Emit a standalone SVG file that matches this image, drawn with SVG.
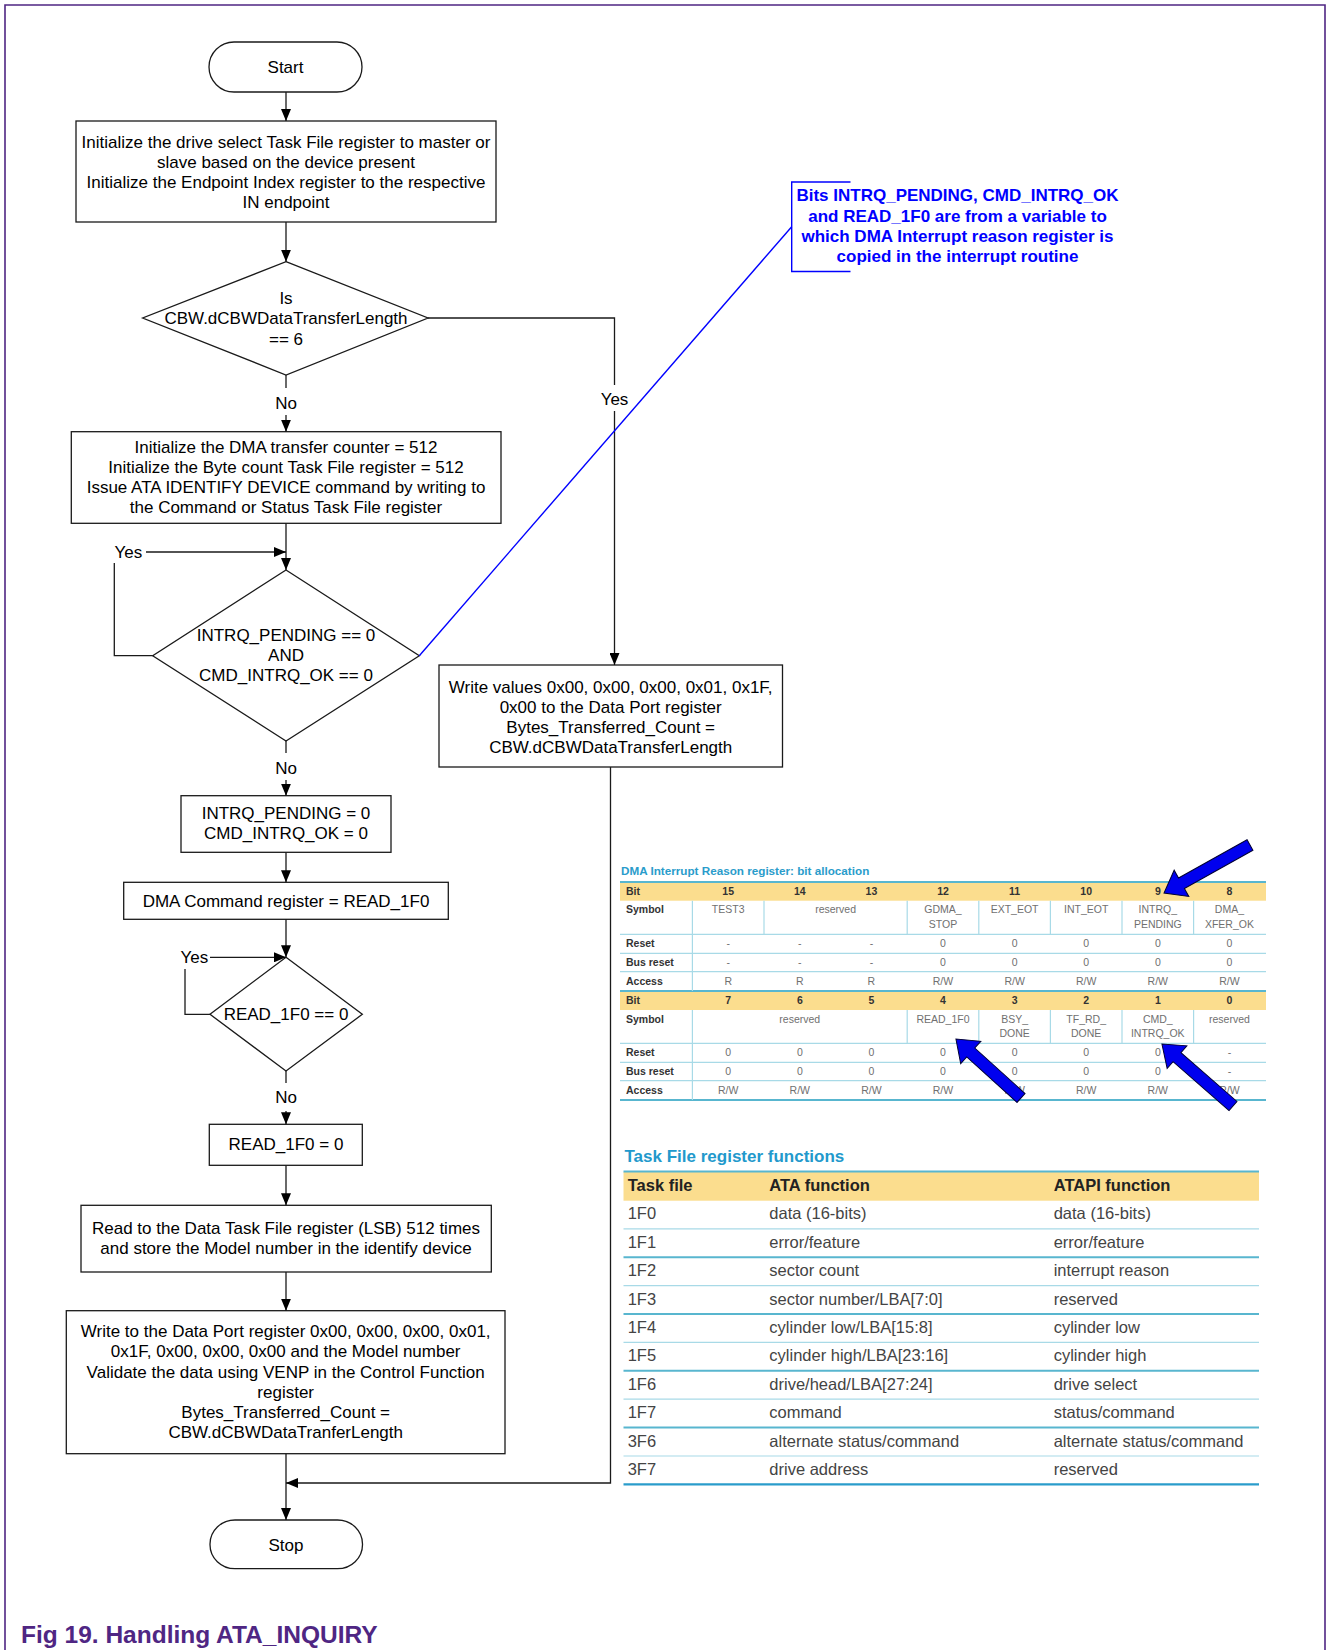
<svg xmlns="http://www.w3.org/2000/svg" width="1327" height="1650" viewBox="0 0 1327 1650">
  <style>
    text { font-family: "Liberation Sans", Arial, sans-serif; }
    .node { fill: #ffffff; stroke: #1a1a1a; stroke-width: 1.3; }
    .t { font-size: 17px; fill: #000000; text-anchor: middle; }
    .lbl { font-size: 17px; fill: #000000; }
    .conn { fill: none; stroke: #1a1a1a; stroke-width: 1.3; }
    .note { fill: none; stroke: #0000ff; stroke-width: 1.4; }
    .notet { font-size: 17px; font-weight: bold; fill: #0000ff; text-anchor: middle; }
    .frame { fill: none; stroke: #4f2683; stroke-width: 1.6; }
    .cap { font-size: 24.5px; font-weight: bold; fill: #4f2683; }
    .hdr { fill: #fbdd8e; }
    .thick { stroke: #58b6cf; stroke-width: 2; }
    .thin { stroke: #a8dae7; stroke-width: 1.2; }
    .rtitle { font-size: 11.7px; font-weight: bold; fill: #2a9ccb; }
    .rlab { font-size: 10.5px; font-weight: bold; fill: #333333; }
    .rnum { font-size: 10.5px; font-weight: bold; fill: #333333; text-anchor: middle; }
    .rval { font-size: 10.5px; fill: #707070; text-anchor: middle; }
    .ttitle { font-size: 17px; font-weight: bold; fill: #2299cc; }
    .th { font-size: 16.5px; font-weight: bold; fill: #222222; }
    .td { font-size: 16.5px; fill: #444444; }
    .barrow { fill: #0000ee; stroke: #000033; stroke-width: 1; }
  </style>
  <defs>
    <marker id="ah" viewBox="0 0 12 10" refX="12" refY="5" markerWidth="12" markerHeight="10" markerUnits="userSpaceOnUse" orient="auto">
      <path d="M0,0 L12,5 L0,10 z" fill="#000000"/>
    </marker>
  </defs>

  <rect width="1327" height="1650" fill="#ffffff"/>

  <!-- page frame -->
  <path class="frame" d="M5,1650 V5 H1325 V1650"/>

  <!-- flow nodes -->
  <g id="start">
    <rect class="node" x="209" y="42" width="153" height="50" rx="25" ry="25"/>
    <text class="t" x="285.5" y="72.5">Start</text>
  </g>

  <g id="init-drive">
    <rect class="node" x="76" y="121" width="420" height="101"/>
    <text class="t" x="286" y="148">Initialize the drive select Task File register to master or</text>
    <text class="t" x="286" y="168">slave based on the device present</text>
    <text class="t" x="286" y="188">Initialize the Endpoint Index register to the respective</text>
    <text class="t" x="286" y="208">IN endpoint</text>
  </g>

  <g id="check-length">
    <polygon class="node" points="286,261.7 428,318 286,375 142.7,318"/>
    <text class="t" x="286" y="303.5">Is</text>
    <text class="t" x="286" y="323.5">CBW.dCBWDataTransferLength</text>
    <text class="t" x="286" y="344.5">== 6</text>
  </g>

  <g id="init-dma">
    <rect class="node" x="71.3" y="431.7" width="429.7" height="91.6"/>
    <text class="t" x="286" y="452.5">Initialize the DMA transfer counter = 512</text>
    <text class="t" x="286" y="473">Initialize the Byte count Task File register = 512</text>
    <text class="t" x="286" y="493">Issue ATA IDENTIFY DEVICE command by writing to</text>
    <text class="t" x="286" y="513">the Command or Status Task File register</text>
  </g>

  <g id="wait-intrq">
    <polygon class="node" points="286,570 419.3,655.7 286,741 152.7,655.7"/>
    <text class="t" x="286" y="641">INTRQ_PENDING == 0</text>
    <text class="t" x="286" y="661">AND</text>
    <text class="t" x="286" y="681">CMD_INTRQ_OK == 0</text>
  </g>

  <g id="clear-intrq">
    <rect class="node" x="181" y="795.7" width="210" height="56.6"/>
    <text class="t" x="286" y="819">INTRQ_PENDING = 0</text>
    <text class="t" x="286" y="839">CMD_INTRQ_OK = 0</text>
  </g>

  <g id="dma-command">
    <rect class="node" x="123.7" y="882.3" width="324.6" height="37"/>
    <text class="t" x="286" y="906.5">DMA Command register = READ_1F0</text>
  </g>

  <g id="wait-read">
    <polygon class="node" points="286,957.3 362.3,1014.3 286,1071 210,1014.3"/>
    <text class="t" x="286" y="1020">READ_1F0 == 0</text>
  </g>

  <g id="clear-read">
    <rect class="node" x="209.3" y="1124.3" width="153" height="41"/>
    <text class="t" x="286" y="1150">READ_1F0 = 0</text>
  </g>

  <g id="read-data">
    <rect class="node" x="81" y="1205.3" width="410.3" height="66.7"/>
    <text class="t" x="286" y="1234.3">Read to the Data Task File register (LSB) 512 times</text>
    <text class="t" x="286" y="1254.3">and store the Model number in the identify device</text>
  </g>

  <g id="write-model">
    <rect class="node" x="66.3" y="1310.7" width="438.7" height="143"/>
    <text class="t" x="285.7" y="1336.5">Write to the Data Port register 0x00, 0x00, 0x00, 0x01,</text>
    <text class="t" x="285.7" y="1357">0x1F, 0x00, 0x00, 0x00 and the Model number</text>
    <text class="t" x="285.7" y="1377.5">Validate the data using VENP in the Control Function</text>
    <text class="t" x="285.7" y="1397.5">register</text>
    <text class="t" x="285.7" y="1418">Bytes_Transferred_Count =</text>
    <text class="t" x="285.7" y="1438">CBW.dCBWDataTranferLength</text>
  </g>

  <g id="write-values">
    <rect class="node" x="439" y="665" width="343.5" height="102"/>
    <text class="t" x="610.7" y="692.5">Write values 0x00, 0x00, 0x00, 0x01, 0x1F,</text>
    <text class="t" x="610.7" y="712.5">0x00 to the Data Port register</text>
    <text class="t" x="610.7" y="732.5">Bytes_Transferred_Count =</text>
    <text class="t" x="610.7" y="752.5">CBW.dCBWDataTransferLength</text>
  </g>

  <g id="stop">
    <rect class="node" x="210" y="1520" width="152.5" height="48.7" rx="25" ry="24"/>
    <text class="t" x="286" y="1551">Stop</text>
  </g>

  <!-- connectors -->
  <g id="connectors">
    <path class="conn" d="M286,92 V121" marker-end="url(#ah)"/>
    <path class="conn" d="M286,222 V261.7" marker-end="url(#ah)"/>
    <path class="conn" d="M286,375 V388"/>
    <path class="conn" d="M286,415 V431.7" marker-end="url(#ah)"/>
    <path class="conn" d="M428,318 H614.5 V385"/>
    <path class="conn" d="M614.5,411 V665" marker-end="url(#ah)"/>
    <path class="conn" d="M286,523.3 V570" marker-end="url(#ah)"/>
    <path class="conn" d="M152.7,655.7 H114.3 V563"/>
    <path class="conn" d="M146,552 H286" marker-end="url(#ah)"/>
    <path class="conn" d="M286,741 V753"/>
    <path class="conn" d="M286,780 V795.7" marker-end="url(#ah)"/>
    <path class="conn" d="M286,852.3 V882.3" marker-end="url(#ah)"/>
    <path class="conn" d="M286,919.3 V957.3" marker-end="url(#ah)"/>
    <path class="conn" d="M210,1014.3 H185 V969"/>
    <path class="conn" d="M210,957.3 H286" marker-end="url(#ah)"/>
    <path class="conn" d="M286,1071 V1083"/>
    <path class="conn" d="M286,1111 V1124.3" marker-end="url(#ah)"/>
    <path class="conn" d="M286,1165.3 V1205.3" marker-end="url(#ah)"/>
    <path class="conn" d="M286,1272 V1310.7" marker-end="url(#ah)"/>
    <path class="conn" d="M286,1453.7 V1520" marker-end="url(#ah)"/>
    <path class="conn" d="M610.5,767 V1483 H286" marker-end="url(#ah)"/>
    <text class="lbl" x="286" y="409" text-anchor="middle">No</text>
    <text class="lbl" x="614.5" y="404.5" text-anchor="middle">Yes</text>
    <text class="lbl" x="114.5" y="558">Yes</text>
    <text class="lbl" x="286" y="774" text-anchor="middle">No</text>
    <text class="lbl" x="180.5" y="963">Yes</text>
    <text class="lbl" x="286" y="1103.3" text-anchor="middle">No</text>
    <!-- annotation link -->
    <path class="note" d="M791.7,226.7 L419.3,655.7"/>
  </g>

  <!-- annotation -->
  <g id="annotation">
    <path class="note" d="M850.5,182 H791.7 V271.5 H850.5"/>
    <text class="notet" x="957.5" y="201">Bits INTRQ_PENDING, CMD_INTRQ_OK</text>
    <text class="notet" x="957.5" y="221.5">and READ_1F0 are from a variable to</text>
    <text class="notet" x="957.5" y="242">which DMA Interrupt reason register is</text>
    <text class="notet" x="957.5" y="262">copied in the interrupt routine</text>
  </g>

  <!-- DMA Interrupt Reason register table -->
  <g id="dma-reason-table">
    <text class="rtitle" x="621" y="875">DMA Interrupt Reason register: bit allocation</text>
    <rect class="hdr" x="620" y="882" width="646" height="18.7"/>
    <rect class="hdr" x="620" y="991" width="646" height="19"/>
    <!-- horizontal rules -->
    <line class="thin" x1="620" y1="934.3" x2="1266" y2="934.3"/>
    <line class="thin" x1="620" y1="953.3" x2="1266" y2="953.3"/>
    <line class="thin" x1="620" y1="971.7" x2="1266" y2="971.7"/>
    <line class="thin" x1="620" y1="1043.3" x2="1266" y2="1043.3"/>
    <line class="thin" x1="620" y1="1062.3" x2="1266" y2="1062.3"/>
    <line class="thin" x1="620" y1="1080.7" x2="1266" y2="1080.7"/>
    <line class="thick" x1="620" y1="882" x2="1266" y2="882"/>
    <line class="thick" x1="620" y1="991" x2="1266" y2="991"/>
    <line class="thick" x1="620" y1="1100" x2="1266" y2="1100"/>
    <!-- column rules -->
    <line class="thin" x1="692.4" y1="900.7" x2="692.4" y2="991"/>
    <line class="thin" x1="692.4" y1="1010" x2="692.4" y2="1100"/>
    <line class="thin" x1="764" y1="900.7" x2="764" y2="934.3"/>
    <line class="thin" x1="907.2" y1="900.7" x2="907.2" y2="934.3"/>
    <line class="thin" x1="978.8" y1="900.7" x2="978.8" y2="934.3"/>
    <line class="thin" x1="1050.4" y1="900.7" x2="1050.4" y2="934.3"/>
    <line class="thin" x1="1122" y1="900.7" x2="1122" y2="934.3"/>
    <line class="thin" x1="1193.6" y1="900.7" x2="1193.6" y2="934.3"/>
    <line class="thin" x1="907.2" y1="1010" x2="907.2" y2="1043.3"/>
    <line class="thin" x1="978.8" y1="1010" x2="978.8" y2="1043.3"/>
    <line class="thin" x1="1050.4" y1="1010" x2="1050.4" y2="1043.3"/>
    <line class="thin" x1="1122" y1="1010" x2="1122" y2="1043.3"/>
    <line class="thin" x1="1193.6" y1="1010" x2="1193.6" y2="1043.3"/>
    <!-- row labels -->
    <text class="rlab" x="626" y="895">Bit</text>
    <text class="rlab" x="626" y="913">Symbol</text>
    <text class="rlab" x="626" y="946.5">Reset</text>
    <text class="rlab" x="626" y="966">Bus reset</text>
    <text class="rlab" x="626" y="985">Access</text>
    <text class="rlab" x="626" y="1004">Bit</text>
    <text class="rlab" x="626" y="1023">Symbol</text>
    <text class="rlab" x="626" y="1055.5">Reset</text>
    <text class="rlab" x="626" y="1075">Bus reset</text>
    <text class="rlab" x="626" y="1094">Access</text>
    <!-- upper byte -->
    <text class="rnum" x="728.2" y="895">15</text>
    <text class="rnum" x="799.8" y="895">14</text>
    <text class="rnum" x="871.4" y="895">13</text>
    <text class="rnum" x="943" y="895">12</text>
    <text class="rnum" x="1014.6" y="895">11</text>
    <text class="rnum" x="1086.2" y="895">10</text>
    <text class="rnum" x="1157.8" y="895">9</text>
    <text class="rnum" x="1229.4" y="895">8</text>
    <text class="rval" x="728.2" y="913">TEST3</text>
    <text class="rval" x="835.6" y="913">reserved</text>
    <text class="rval" x="943" y="913">GDMA_</text>
    <text class="rval" x="943" y="927.5">STOP</text>
    <text class="rval" x="1014.6" y="913">EXT_EOT</text>
    <text class="rval" x="1086.2" y="913">INT_EOT</text>
    <text class="rval" x="1157.8" y="913">INTRQ_</text>
    <text class="rval" x="1157.8" y="927.5">PENDING</text>
    <text class="rval" x="1229.4" y="913">DMA_</text>
    <text class="rval" x="1229.4" y="927.5">XFER_OK</text>
    <text class="rval" x="728.2" y="946.5">-</text>
    <text class="rval" x="799.8" y="946.5">-</text>
    <text class="rval" x="871.4" y="946.5">-</text>
    <text class="rval" x="943" y="946.5">0</text>
    <text class="rval" x="1014.6" y="946.5">0</text>
    <text class="rval" x="1086.2" y="946.5">0</text>
    <text class="rval" x="1157.8" y="946.5">0</text>
    <text class="rval" x="1229.4" y="946.5">0</text>
    <text class="rval" x="728.2" y="966">-</text>
    <text class="rval" x="799.8" y="966">-</text>
    <text class="rval" x="871.4" y="966">-</text>
    <text class="rval" x="943" y="966">0</text>
    <text class="rval" x="1014.6" y="966">0</text>
    <text class="rval" x="1086.2" y="966">0</text>
    <text class="rval" x="1157.8" y="966">0</text>
    <text class="rval" x="1229.4" y="966">0</text>
    <text class="rval" x="728.2" y="985">R</text>
    <text class="rval" x="799.8" y="985">R</text>
    <text class="rval" x="871.4" y="985">R</text>
    <text class="rval" x="943" y="985">R/W</text>
    <text class="rval" x="1014.6" y="985">R/W</text>
    <text class="rval" x="1086.2" y="985">R/W</text>
    <text class="rval" x="1157.8" y="985">R/W</text>
    <text class="rval" x="1229.4" y="985">R/W</text>
    <!-- lower byte -->
    <text class="rnum" x="728.2" y="1004">7</text>
    <text class="rnum" x="799.8" y="1004">6</text>
    <text class="rnum" x="871.4" y="1004">5</text>
    <text class="rnum" x="943" y="1004">4</text>
    <text class="rnum" x="1014.6" y="1004">3</text>
    <text class="rnum" x="1086.2" y="1004">2</text>
    <text class="rnum" x="1157.8" y="1004">1</text>
    <text class="rnum" x="1229.4" y="1004">0</text>
    <text class="rval" x="799.8" y="1023">reserved</text>
    <text class="rval" x="943" y="1023">READ_1F0</text>
    <text class="rval" x="1014.6" y="1023">BSY_</text>
    <text class="rval" x="1014.6" y="1037">DONE</text>
    <text class="rval" x="1086.2" y="1023">TF_RD_</text>
    <text class="rval" x="1086.2" y="1037">DONE</text>
    <text class="rval" x="1157.8" y="1023">CMD_</text>
    <text class="rval" x="1157.8" y="1037">INTRQ_OK</text>
    <text class="rval" x="1229.4" y="1023">reserved</text>
    <text class="rval" x="728.2" y="1055.5">0</text>
    <text class="rval" x="799.8" y="1055.5">0</text>
    <text class="rval" x="871.4" y="1055.5">0</text>
    <text class="rval" x="943" y="1055.5">0</text>
    <text class="rval" x="1014.6" y="1055.5">0</text>
    <text class="rval" x="1086.2" y="1055.5">0</text>
    <text class="rval" x="1157.8" y="1055.5">0</text>
    <text class="rval" x="1229.4" y="1055.5">-</text>
    <text class="rval" x="728.2" y="1075">0</text>
    <text class="rval" x="799.8" y="1075">0</text>
    <text class="rval" x="871.4" y="1075">0</text>
    <text class="rval" x="943" y="1075">0</text>
    <text class="rval" x="1014.6" y="1075">0</text>
    <text class="rval" x="1086.2" y="1075">0</text>
    <text class="rval" x="1157.8" y="1075">0</text>
    <text class="rval" x="1229.4" y="1075">-</text>
    <text class="rval" x="728.2" y="1094">R/W</text>
    <text class="rval" x="799.8" y="1094">R/W</text>
    <text class="rval" x="871.4" y="1094">R/W</text>
    <text class="rval" x="943" y="1094">R/W</text>
    <text class="rval" x="1014.6" y="1094">R/W</text>
    <text class="rval" x="1086.2" y="1094">R/W</text>
    <text class="rval" x="1157.8" y="1094">R/W</text>
    <text class="rval" x="1229.4" y="1094">R/W</text>
  </g>

  <!-- pointer arrows on the register table -->
  <g id="pointer-arrows">
    <polygon class="barrow" points="0,-6 78.5,-6 78.5,-15 98.5,0 78.5,15 78.5,6 0,6" transform="translate(1250,845) rotate(150.8)"/>
    <polygon class="barrow" points="0,-6 67.8,-6 67.8,-15 87.8,0 67.8,15 67.8,6 0,6" transform="translate(1021,1098) rotate(-137.8)"/>
    <polygon class="barrow" points="0,-6 74.3,-6 74.3,-15 94.3,0 74.3,15 74.3,6 0,6" transform="translate(1233,1106) rotate(-138.9)"/>
  </g>

  <!-- Task File register functions table -->
  <g id="task-file-table">
    <text class="ttitle" x="624.5" y="1162">Task File register functions</text>
    <rect class="hdr" x="623.5" y="1172" width="635.5" height="28.7"/>
    <line class="thick" x1="623.5" y1="1171.5" x2="1259" y2="1171.5"/>
    <text class="th" x="627.7" y="1191">Task file</text>
    <text class="th" x="769.3" y="1191">ATA function</text>
    <text class="th" x="1053.7" y="1191">ATAPI function</text>

    <line class="thin" x1="623.5" y1="1228.9" x2="1259" y2="1228.9"/>
    <line class="thick" x1="623.5" y1="1257.3" x2="1259" y2="1257.3"/>
    <line class="thin" x1="623.5" y1="1285.7" x2="1259" y2="1285.7"/>
    <line class="thick" x1="623.5" y1="1314" x2="1259" y2="1314"/>
    <line class="thin" x1="623.5" y1="1342.4" x2="1259" y2="1342.4"/>
    <line class="thick" x1="623.5" y1="1370.8" x2="1259" y2="1370.8"/>
    <line class="thin" x1="623.5" y1="1399.2" x2="1259" y2="1399.2"/>
    <line class="thick" x1="623.5" y1="1427.6" x2="1259" y2="1427.6"/>
    <line class="thin" x1="623.5" y1="1456" x2="1259" y2="1456"/>
    <line x1="623.5" y1="1484.3" x2="1259" y2="1484.3" stroke="#2a9ccb" stroke-width="2.2"/>

    <text class="td" x="627.7" y="1219.3">1F0</text>
    <text class="td" x="769.3" y="1219.3">data (16-bits)</text>
    <text class="td" x="1053.7" y="1219.3">data (16-bits)</text>
    <text class="td" x="627.7" y="1247.7">1F1</text>
    <text class="td" x="769.3" y="1247.7">error/feature</text>
    <text class="td" x="1053.7" y="1247.7">error/feature</text>
    <text class="td" x="627.7" y="1276.1">1F2</text>
    <text class="td" x="769.3" y="1276.1">sector count</text>
    <text class="td" x="1053.7" y="1276.1">interrupt reason</text>
    <text class="td" x="627.7" y="1304.5">1F3</text>
    <text class="td" x="769.3" y="1304.5">sector number/LBA[7:0]</text>
    <text class="td" x="1053.7" y="1304.5">reserved</text>
    <text class="td" x="627.7" y="1332.9">1F4</text>
    <text class="td" x="769.3" y="1332.9">cylinder low/LBA[15:8]</text>
    <text class="td" x="1053.7" y="1332.9">cylinder low</text>
    <text class="td" x="627.7" y="1361.3">1F5</text>
    <text class="td" x="769.3" y="1361.3">cylinder high/LBA[23:16]</text>
    <text class="td" x="1053.7" y="1361.3">cylinder high</text>
    <text class="td" x="627.7" y="1389.7">1F6</text>
    <text class="td" x="769.3" y="1389.7">drive/head/LBA[27:24]</text>
    <text class="td" x="1053.7" y="1389.7">drive select</text>
    <text class="td" x="627.7" y="1418.1">1F7</text>
    <text class="td" x="769.3" y="1418.1">command</text>
    <text class="td" x="1053.7" y="1418.1">status/command</text>
    <text class="td" x="627.7" y="1446.5">3F6</text>
    <text class="td" x="769.3" y="1446.5">alternate status/command</text>
    <text class="td" x="1053.7" y="1446.5">alternate status/command</text>
    <text class="td" x="627.7" y="1474.9">3F7</text>
    <text class="td" x="769.3" y="1474.9">drive address</text>
    <text class="td" x="1053.7" y="1474.9">reserved</text>
  </g>

  <text class="cap" x="21" y="1643">Fig 19. Handling ATA_INQUIRY</text>
</svg>
